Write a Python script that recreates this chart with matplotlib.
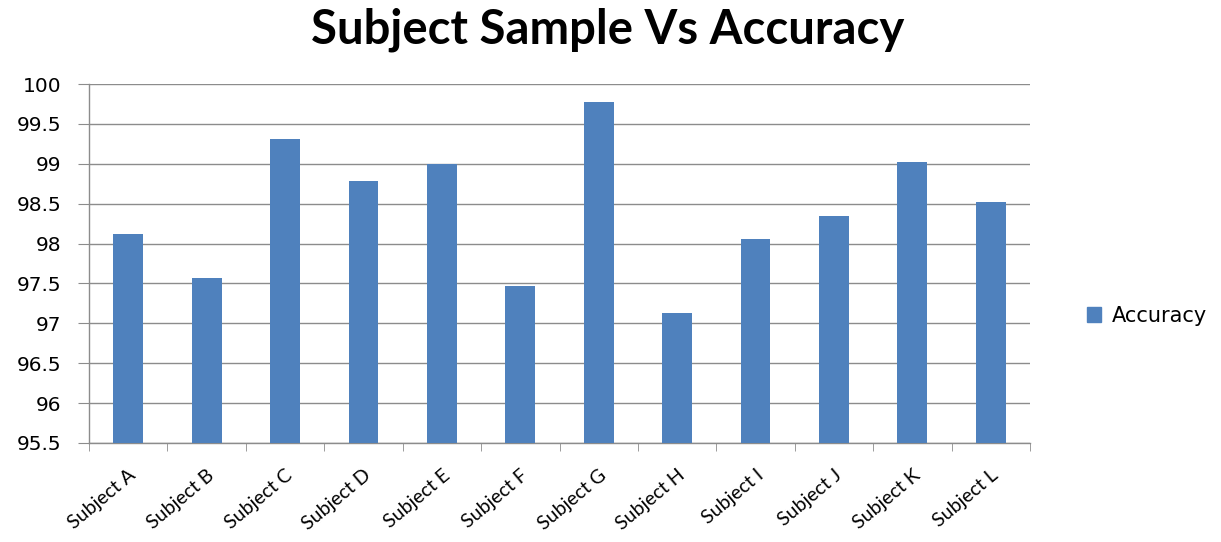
import matplotlib
matplotlib.use("Agg")
import matplotlib.pyplot as plt
from matplotlib.patches import Patch
import numpy as np

categories = ["Subject A", "Subject B", "Subject C", "Subject D", "Subject E", "Subject F",
              "Subject G", "Subject H", "Subject I", "Subject J", "Subject K", "Subject L"]
accuracy = [98.12, 97.57, 99.31, 98.78, 99.0, 97.47, 99.77, 97.13, 98.06, 98.35, 99.02, 98.52]
yticks = [95.5, 96, 96.5, 97, 97.5, 98, 98.5, 99, 99.5, 100]
ytick_labels = ["95.5", "96", "96.5", "97", "97.5", "98", "98.5", "99", "99.5", "100"]

plt.rcParams['font.family'] = ['DejaVu Sans']
fig = plt.figure(figsize=(12.21, 5.42), dpi=100)
ax = fig.add_axes([89/1221, 1 - 443/542, (1030 - 89)/1221, (443 - 84)/542])

x = np.arange(len(categories))
color = "#4F81BD"
ax.bar(x, np.array(accuracy) - 95.5, bottom=95.5, width=0.38, color=color, zorder=3)

ax.set_xlim(-0.5, len(categories) - 0.5)
ax.set_ylim(95.5, 100)
ax.set_yticks(yticks)
ax.set_yticklabels(ytick_labels, fontsize=14.5)
ax.yaxis.grid(True, color="#8c8c8c", linewidth=1.0, zorder=0)
ax.tick_params(axis='y', length=8, color="#8c8c8c", pad=12)

ax.set_xticks(x)
ax.set_xticklabels(categories, rotation=40, ha='right', rotation_mode='anchor',
                   fontsize=14, family='Lato')
ax.tick_params(axis='x', which='major', length=0, pad=17)
ax.set_xticks(np.arange(-0.5, len(categories), 1.0), minor=True)
ax.tick_params(axis='x', which='minor', length=6, color="#8c8c8c")

for s in ["top", "right"]:
    ax.spines[s].set_visible(False)
for s in ["left", "bottom"]:
    ax.spines[s].set_color("#8c8c8c")
    ax.spines[s].set_linewidth(1.0)

fig.text(0.498, 0.945, "Subject Sample Vs Accuracy", ha='center', va='center',
         fontsize=34, fontweight='bold', family='Lato')

fig.legend(handles=[Patch(color=color, label="Accuracy")], loc='center left',
           bbox_to_anchor=(1068/1221, 1 - 316/542), frameon=False, fontsize=15,
           handlelength=0.7, handleheight=0.7, handletextpad=0.5)

fig.savefig("out.png", dpi=100)
